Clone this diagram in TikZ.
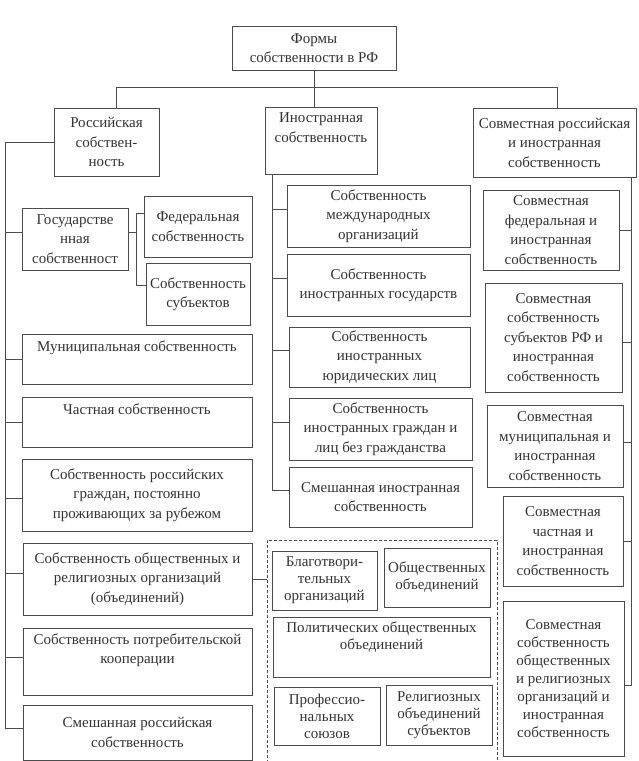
\documentclass[tikz,border=0pt]{standalone}
\usepackage{fontspec}
\setmainfont{Liberation Serif}
\newcommand\mybox[6][]{\node[box,#1,minimum width={(#4-#2)*1pt},minimum height={(#5-#3)*1pt}] (#6) at ({(#2+#4)/2},{(#3+#5)/2})}
\tikzset{
  box/.style={draw=black!70, line width=0.7pt, inner sep=0pt, outer sep=0pt, align=center,
    text=black!80, font=\fontsize{15}{19.5}\selectfont},
  tight/.style={font=\fontsize{15}{17}\selectfont},
  conn/.style={draw=black!70, line width=0.7pt},
  grpbox/.style={draw=black!70, line width=0.7pt, dash pattern=on 3pt off 2pt, inner sep=0pt, outer sep=0pt}
}
\begin{document}
\begin{tikzpicture}[x=1pt,y=-1pt]
\useasboundingbox (0,0) rectangle (638,761);
% top level
\mybox{232}{26}{396}{70}{top} {Формы\\собственности в РФ};
\mybox{54}{108}{159}{176}{rus} {Российская\\собствен-\\ность};
\mybox{265}{107}{377}{174}{for} {Иностранная\\собственность\\\strut};
\mybox{473}{108}{636}{177}{joint} {Совместная российская\\и иностранная\\собственность};
% Russian column
\mybox{22}{208}{128}{270}{gos} {Государстве\\нная\\собственност};
\mybox{144}{196}{252}{257}{fed} {Федеральная\\собственность};
\mybox{146}{263}{250}{325}{subj} {Собственность\\субъектов};
\mybox{22}{334}{252}{384}{muni} {Муниципальная собственность\\\strut};
\mybox{22}{397}{252}{447}{priv} {Частная собственность\\\strut};
\mybox{22}{459}{252}{531}{abroad} {Собственность российских\\граждан, постоянно\\проживающих за рубежом};
\mybox{23}{543}{252}{615}{obsh} {Собственность общественных и\\религиозных организаций\\(объединений)};
\mybox{23}{628}{252}{695}{potr} {Собственность потребительской\\кооперации\\\strut};
\mybox{23}{705}{252}{760}{mixru} {Смешанная российская\\собственность};
% Foreign column
\mybox{287}{185}{470}{247}{f1} {Собственность\\международных\\организаций};
\mybox{287}{254}{470}{316}{f2} {Собственность\\иностранных государств};
\mybox{289}{327}{470}{387}{f3} {Собственность\\иностранных\\юридических лиц};
\mybox{289}{398}{472}{460}{f4} {Собственность\\иностранных граждан и\\лиц без гражданства};
\mybox{289}{467}{472}{527}{f5} {Смешанная иностранная\\собственность};
% Joint column
\mybox{483}{190}{619}{270}{j1} {Совместная\\федеральная и\\иностранная\\собственность};
\mybox{485}{283}{622}{392}{j2} {Совместная\\собственность\\субъектов РФ и\\иностранная\\собственность};
\mybox{487}{405}{623}{487}{j3} {Совместная\\муниципальная и\\иностранная\\собственность};
\mybox{503}{496}{623}{586}{j4} {Совместная\\частная и\\иностранная\\собственность};
\mybox[font=\fontsize{15}{18}\selectfont]{503}{601}{624}{756}{j5} {Совместная\\собственность\\общественных\\и религиозных\\организаций и\\иностранная\\собственность};
% dashed group
\node[grpbox, minimum width=230pt, minimum height=235pt] (grp) at (382,657.5) {};
\mybox[tight]{272}{551}{377}{610}{d1} {Благотвори-\\тельных\\организаций};
\mybox[tight]{384}{548}{490}{607}{d2} {Общественных\\объединений};
\mybox[tight]{273}{617}{490}{677}{d3} {Политических общественных\\объединений\\\strut};
\mybox[tight]{274}{687}{380}{745}{d4} {Профессио-\\нальных\\союзов};
\mybox[tight]{386}{685}{492}{745}{d5} {Религиозных\\объединений\\субъектов};
% bus coordinates
\coordinate (bl) at (116,87);
\coordinate (br) at (557,87);
\coordinate (lx) at (5,0);
\coordinate (gx) at (136,0);
\coordinate (fx) at (272,0);
\coordinate (jx) at (631,0);
\coordinate (mxw) at ([yshift=4pt]mixru.west);
\coordinate (sbw) at ([yshift=9pt]subj.west);
\coordinate (fdw) at ([yshift=13pt]fed.west);
\coordinate (f5w) at ([yshift=7pt]f5.west);
\coordinate (j5e) at ([yshift=-7pt]j5.east);
% top connectors
\draw[conn] (top.south) -- (top.south |- for.north);
\draw[conn] (rus.north -| bl) -- (bl) -- (br) -- (joint.north -| br);
% Russian bus
\draw[conn] (rus.west) -| (lx |- mxw) -- (mxw);
\draw[conn] ([yshift=7pt]gos.west) -- ([yshift=7pt]gos.west -| lx);
\draw[conn] (muni.west) -- (muni.west -| lx);
\draw[conn] (priv.west) -- (priv.west -| lx);
\draw[conn] ([yshift=-3pt]abroad.west) -- ([yshift=-3pt]abroad.west -| lx);
\draw[conn] ([yshift=6pt]obsh.west) -- ([yshift=6pt]obsh.west -| lx);
\draw[conn] ([yshift=4pt]potr.west) -- ([yshift=4pt]potr.west -| lx);
% state bracket
\draw[conn] ([yshift=7pt]gos.east) -- ([yshift=7pt]gos.east -| gx);
\draw[conn] (fdw) -| (gx |- sbw) -- (sbw);
% Foreign bus
\draw[conn] (for.south -| fx) |- (f5w);
\foreach \n in {f1,f2,f3,f4}
  \draw[conn] ([yshift=7pt]\n.west) -- ([yshift=7pt]\n.west -| fx);
% Joint bus
\draw[conn] (joint.south -| jx) |- (j5e);
\draw[conn] (j1.east) -- (j1.east -| jx);
\draw[conn] ([yshift=-5pt]j2.east) -- ([yshift=-5pt]j2.east -| jx);
\draw[conn] ([yshift=4pt]j3.east) -- ([yshift=4pt]j3.east -| jx);
\draw[conn] (j4.east) -- (j4.east -| jx);
% public organisations link
\draw[conn] (obsh.east) -- (obsh.east -| grp.west);
\end{tikzpicture}
\end{document}
